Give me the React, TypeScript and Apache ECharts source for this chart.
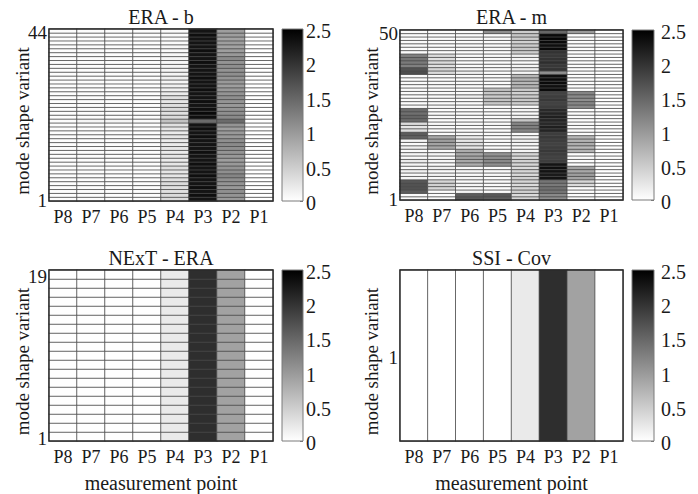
import React, { useEffect, useRef } from "react";
import * as echarts from "echarts";

// measurement points (x categories, left to right)
const points = ["P8", "P7", "P6", "P5", "P4", "P3", "P2", "P1"];
const titles = ["ERA - b", "ERA - m", "NExT - ERA", "SSI - Cov"];
const colorbarTicks = [0, 0.5, 1, 1.5, 2, 2.5];
const xName = "measurement point";
const yName = "mode shape variant";

// ERA - b : 44 variants, each array = column values from variant 1 (bottom) to 44 (top)
const eraB_P8 = [0.02,0.02,0.02,0.02,0.02,0.02,0.02,0.02,0.02,0.02,0.02,0.02,0.02,0.02,0.02,0.02,0.02,0.02,0.02,0.02,0.03,0.02,0.02,0.02,0.02,0.02,0.02,0.02,0.02,0.02,0.02,0.02,0.02,0.02,0.02,0.02,0.02,0.02,0.02,0.02,0.02,0.02,0.02,0.02];
const eraB_P7 = [0.03,0.03,0.03,0.03,0.03,0.03,0.03,0.03,0.03,0.03,0.03,0.03,0.03,0.03,0.03,0.03,0.03,0.03,0.03,0.03,0.1,0.03,0.03,0.03,0.03,0.03,0.03,0.03,0.03,0.03,0.03,0.03,0.03,0.03,0.03,0.03,0.03,0.03,0.03,0.03,0.03,0.03,0.03,0.03];
const eraB_P6 = [0.02,0.02,0.02,0.02,0.02,0.02,0.02,0.02,0.02,0.02,0.02,0.02,0.02,0.02,0.02,0.02,0.02,0.02,0.02,0.02,0.1,0.02,0.02,0.02,0.02,0.02,0.02,0.02,0.02,0.02,0.02,0.02,0.02,0.02,0.02,0.02,0.02,0.02,0.02,0.02,0.02,0.02,0.02,0.02];
const eraB_P5 = [0.02,0.02,0.02,0.02,0.02,0.02,0.02,0.02,0.02,0.02,0.02,0.02,0.02,0.02,0.02,0.02,0.02,0.02,0.02,0.02,0.05,0.02,0.02,0.02,0.02,0.02,0.02,0.02,0.02,0.02,0.02,0.02,0.02,0.02,0.02,0.02,0.02,0.02,0.02,0.02,0.02,0.02,0.02,0.02];
const eraB_P4 = [0.35,0.35,0.3,0.3,0.35,0.3,0.25,0.25,0.3,0.25,0.2,0.25,0.2,0.25,0.2,0.2,0.25,0.2,0.25,0.3,0.6,0.35,0.3,0.35,0.3,0.25,0.3,0.2,0.15,0.15,0.1,0.15,0.1,0.1,0.1,0.08,0.1,0.08,0.05,0.08,0.05,0.05,0.05,0.05];
const eraB_P3 = [2.3,2.35,2.3,2.35,2.3,2.3,2.35,2.3,2.3,2.35,2.3,2.3,2.35,2.3,2.3,2.3,2.35,2.3,2.35,2.3,1.45,2.35,2.4,2.35,2.3,2.35,2.3,2.3,2.35,2.3,2.3,2.35,2.3,2.3,2.3,2.35,2.3,2.3,2.35,2.3,2.3,2.3,2.35,2.3];
const eraB_P2 = [1.0,1.05,1.1,1.0,1.05,1.1,1.2,1.1,1.05,1.0,0.95,1.0,1.05,1.1,1.15,1.1,1.0,1.0,0.95,1.05,1.45,1.15,1.1,1.05,1.0,1.05,1.1,1.05,1.0,0.95,1.0,1.05,1.1,1.05,1.1,1.05,1.15,1.0,0.95,0.9,0.95,0.9,0.95,0.95];
const eraB_P1 = [0,0,0,0,0,0,0,0,0,0,0,0,0,0,0,0,0,0,0,0,0,0,0,0,0,0,0,0,0,0,0,0,0,0,0,0,0,0,0,0,0,0,0,0];

// ERA - m : 50 variants
const eraM_P8 = [0.05,0.05,1.6,1.7,1.7,1.65,0.1,0.05,0.15,0.05,0.1,0.2,0.05,0.1,0.05,0.15,0.05,0.1,1.55,1.6,0.3,0.25,0.35,1.45,1.5,1.4,1.45,0.05,0.03,0.05,0.03,0.05,0.05,0.03,0.05,0.03,0.05,1.75,1.7,1.25,1.3,1.35,1.25,0.05,0.03,0.05,0.05,0.03,0.05,0.05];
const eraM_P7 = [0.03,0.03,0.03,0.4,0.45,0.4,0.05,0.1,0.05,0.15,0.05,0.1,0.05,0.1,0.05,0.85,0.9,0.95,0.85,0.05,0.03,0.05,0.05,0.03,0.05,0.05,0.03,0.05,0.05,0.03,0.05,0.05,0.03,0.05,0.05,0.03,0.05,0.35,0.4,0.3,0.35,0.3,0.35,0.03,0.03,0.03,0.03,0.03,0.03,0.03];
const eraM_P6 = [1.65,1.6,0.1,0.05,0.1,0.05,0.1,0.05,0.1,0.05,0.8,0.85,0.9,0.85,0.8,0.25,0.3,0.25,0.2,0.05,0.05,0.03,0.05,0.05,0.03,0.05,0.05,0.03,0.05,0.05,0.15,0.05,0.03,0.05,0.05,0.03,0.05,0.15,0.1,0.05,0.03,0.05,0.05,0.03,0.05,0.05,0.03,0.05,0.05,0.03];
const eraM_P5 = [1.6,1.65,0.05,0.03,0.05,0.05,0.03,0.05,0.05,0.03,1.1,1.15,1.1,1.05,0.05,0.03,0.05,0.05,0.03,0.05,0.05,0.03,0.05,0.05,0.03,0.05,0.05,0.03,0.55,0.6,0.5,0.55,0.6,0.05,0.03,0.05,0.05,0.03,0.05,0.05,0.03,0.05,0.05,0.03,0.05,0.05,0.03,0.05,0.05,1.1];
const eraM_P4 = [0.4,0.35,0.45,0.4,0.35,0.4,0.45,0.35,0.4,0.35,0.4,0.45,0.35,0.4,0.1,0.05,0.1,0.15,0.1,0.05,1.2,1.25,1.2,0.55,0.1,0.05,0.1,0.05,0.5,0.55,0.5,0.45,0.5,0.75,0.7,0.75,0.7,0.1,0.15,0.1,0.05,0.1,0.15,0.5,0.55,0.5,0.45,0.5,0.55,0.5];
const eraM_P3 = [1.1,1.15,1.35,1.4,1.3,1.35,2.3,2.25,2.3,2.35,2.3,1.9,1.85,1.9,1.95,1.9,1.85,1.9,1.95,1.9,2.15,2.2,2.1,2.15,2.2,2.15,2.1,1.9,1.85,1.95,1.9,1.85,2.4,2.35,2.4,2.4,2.35,1.1,2.0,1.95,2.05,2.0,1.95,2.0,2.4,2.35,2.4,2.45,2.4,1.5];
const eraM_P2 = [0.03,0.03,0.03,0.03,0.35,0.4,0.9,0.95,0.85,0.9,0.03,0.03,0.03,0.03,0.75,0.7,0.8,0.75,0.7,0.03,0.03,0.03,0.03,0.03,0.03,0.03,0.03,1.15,1.2,1.1,1.15,1.2,0.03,0.03,0.03,0.03,0.03,0.03,0.03,0.03,0.03,0.03,0.03,0.03,0.03,0.03,0.03,0.03,0.03,1.0];
const eraM_P1 = [0,0,0,0,0,0,0,0,0,0,0,0,0,0,0,0,0,0,0,0,0,0,0,0,0,0,0,0,0,0,0,0,0,0,0,0,0,0,0,0,0,0,0,0,0,0,0,0,0,0];

// NExT - ERA : 19 variants
const next_P8 = [0,0,0,0,0,0,0,0,0,0,0,0,0,0,0,0,0,0,0];
const next_P7 = [0,0,0,0,0,0,0,0,0,0,0,0,0,0,0,0,0,0,0];
const next_P6 = [0,0,0,0,0,0,0,0,0,0,0,0,0,0,0,0,0,0,0];
const next_P5 = [0,0,0,0,0,0,0,0,0,0,0,0,0,0,0,0,0,0,0];
const next_P4 = [0.21,0.21,0.21,0.21,0.21,0.21,0.21,0.21,0.21,0.21,0.21,0.21,0.21,0.21,0.21,0.21,0.21,0.21,0.21];
const next_P3 = [2.05,2.05,2.05,2.05,2.05,2.05,2.05,2.05,2.05,2.05,2.05,2.05,2.05,2.05,2.05,2.05,2.05,2.05,2.05];
const next_P2 = [0.91,0.91,0.91,0.91,0.91,0.91,0.91,0.91,0.91,0.91,0.91,0.91,0.91,0.91,0.91,0.91,0.91,0.91,0.91];
const next_P1 = [0,0,0,0,0,0,0,0,0,0,0,0,0,0,0,0,0,0,0];

// SSI - Cov : 1 variant
const ssi_values = [0, 0, 0, 0, 0.21, 2.05, 0.91, 0];

const panels = [
  [eraB_P8, eraB_P7, eraB_P6, eraB_P5, eraB_P4, eraB_P3, eraB_P2, eraB_P1],
  [eraM_P8, eraM_P7, eraM_P6, eraM_P5, eraM_P4, eraM_P3, eraM_P2, eraM_P1],
  [next_P8, next_P7, next_P6, next_P5, next_P4, next_P3, next_P2, next_P1],
  ssi_values.map((v) => [v]),
];

const FONT = "Liberation Serif";
const TXT = "#1a1a1a";

// layout boxes (px)
const grids = [
  { left: 49, top: 29, width: 224, height: 172 },
  { left: 400, top: 30, width: 223, height: 170 },
  { left: 49, top: 270, width: 224, height: 171 },
  { left: 400, top: 270, width: 223, height: 171 },
];
const cbars = [
  { left: 282, top: 29, width: 21, height: 172 },
  { left: 632, top: 30, width: 22, height: 170 },
  { left: 282, top: 270, width: 21, height: 171 },
  { left: 632, top: 270, width: 22, height: 171 },
];
const cbLabelGap = [3, 7, 3, 7];
const titleY = [17, 17, 258, 258];
const yNameX = [22, 371, 22, 371];

export default function App() {
  const ref = useRef<HTMLDivElement>(null);
  useEffect(() => {
    if (!ref.current) return;
    const chart = echarts.init(ref.current, null, { renderer: "svg" });

    const gridOpts: any[] = [];
    const xAxes: any[] = [];
    const yAxes: any[] = [];
    const series: any[] = [];

    panels.forEach((cols, i) => {
      const rows = cols[0].map((_, r) => String(r + 1));
      const data: any[] = [];
      cols.forEach((col, c) => col.forEach((v, r) => data.push([c, r, v])));
      gridOpts.push({
        ...grids[i],
        show: true,
        z: 10,
        backgroundColor: "transparent",
        borderColor: "#2a2a2a",
        borderWidth: 1.4,
      });
      xAxes.push({
        type: "category",
        gridIndex: i,
        data: points,
        axisLine: { show: false },
        axisTick: { show: false },
        splitLine: { show: false },
        axisLabel: { show: false },
      });
      yAxes.push({
        type: "category",
        gridIndex: i,
        data: rows,
        axisLine: { show: false },
        axisTick: { show: false },
        splitLine: { show: false },
        axisLabel: { show: false },
      });
      series.push({
        type: "heatmap",
        xAxisIndex: i,
        yAxisIndex: i,
        data,
        silent: true,
        itemStyle: { borderColor: "#4a4a4a", borderWidth: 0.8 },
      });
    });

    cbars.forEach((cb, i) => {
      gridOpts.push({
        ...cb,
        show: true,
        z: 10,
        backgroundColor: "transparent",
        borderColor: "#7a7a7a",
        borderWidth: 1,
      });
      xAxes.push({ type: "category", gridIndex: 4 + i, data: ["cb"], show: false });
      yAxes.push({
        type: "value",
        gridIndex: 4 + i,
        position: "right",
        min: colorbarTicks[0],
        max: colorbarTicks[colorbarTicks.length - 1],
        interval: 0.5,
        axisLine: { show: false },
        splitLine: { show: false },
        axisTick: { show: true, inside: true, length: 3, lineStyle: { color: "#777" } },
        axisLabel: { show: false },
      });
      series.push({
        type: "bar",
        xAxisIndex: 4 + i,
        yAxisIndex: 4 + i,
        data: [colorbarTicks[colorbarTicks.length - 1]],
        barWidth: "100%",
        silent: true,
        itemStyle: {
          color: new echarts.graphic.LinearGradient(0, 1, 0, 0, [
            { offset: 0, color: "#ffffff" },
            { offset: 1, color: "#000000" },
          ]),
        },
      });
    });

    chart.setOption({
      animation: false,
      backgroundColor: "#ffffff",
      grid: gridOpts,
      xAxis: xAxes,
      yAxis: yAxes,
      visualMap: {
        type: "continuous",
        show: false,
        min: 0,
        max: 2.5,
        seriesIndex: [0, 1, 2, 3],
        inRange: { color: ["#ffffff", "#000000"] },
      },
      series,
    });

    // texts placed from the axes' own scales
    const txt = (text: string, x: number, y: number, size: number, align: string, extra: any = {}) => ({
      type: "text",
      x,
      y,
      silent: true,
      z: 100,
      ...extra,
      style: {
        text,
        fontFamily: FONT,
        fontSize: size,
        fill: TXT,
        align,
        verticalAlign: "middle",
      },
    });
    const graphics: any[] = [];
    panels.forEach((cols, i) => {
      const g = grids[i];
      const nRows = cols[0].length;
      graphics.push(txt(titles[i], g.left + g.width / 2, titleY[i], 20, "center"));
      const bottom = g.top + g.height;
      points.forEach((p, c) => {
        const pt = chart.convertToPixel({ gridIndex: i }, [c, 0]) as any;
        if (pt) graphics.push(txt(p, pt[0], bottom + 16, 18, "center"));
      });
      const tickRows = nRows > 1 ? [0, nRows - 1] : [0];
      tickRows.forEach((r) => {
        const pt = chart.convertToPixel({ gridIndex: i }, [0, r]) as any;
        if (pt) graphics.push(txt(String(r + 1), g.left - 2, pt[1] + 1.5, 19, "right"));
      });
      graphics.push(
        txt(yName, yNameX[i], g.top + g.height / 2 + 6, 19, "center", { rotation: Math.PI / 2 })
      );
      if (i >= 2) graphics.push(txt(xName, g.left + g.width / 2, bottom + 42, 20, "center"));
    });
    cbars.forEach((cb, i) => {
      colorbarTicks.forEach((v) => {
        const pt = chart.convertToPixel({ gridIndex: 4 + i }, [0, v]) as any;
        if (pt) graphics.push(txt(String(v), cb.left + cb.width + cbLabelGap[i], pt[1] + 2, 20, "left"));
      });
    });
    chart.setOption({ graphic: graphics });

    return () => chart.dispose();
  }, []);
  return (
    <div
      ref={ref}
      style={{ position: "absolute", left: 0, top: 0, width: 698, height: 494 }}
    />
  );
}
